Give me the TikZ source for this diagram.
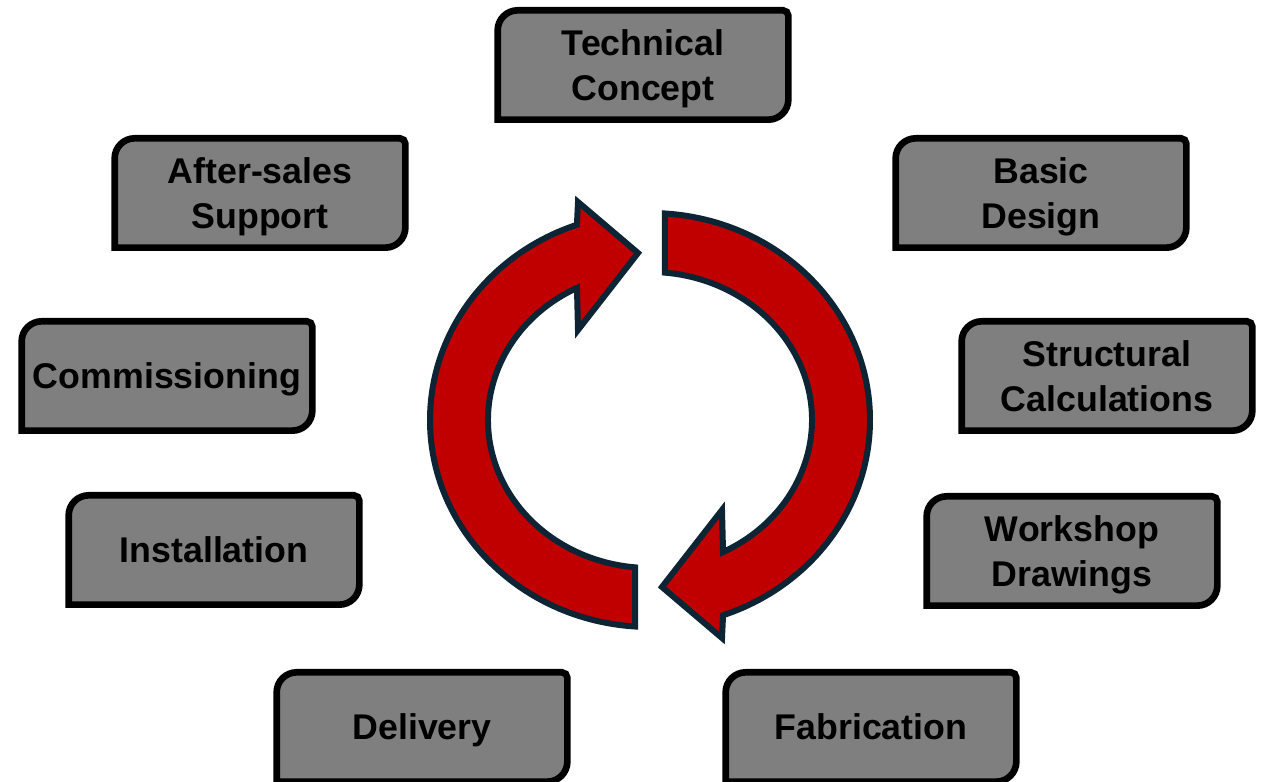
\documentclass[tikz,border=0pt]{standalone}
\usepackage{fontspec}
\setmainfont{Liberation Sans}
\usetikzlibrary{backgrounds}
\definecolor{boxgray}{HTML}{7F7F7F}
\definecolor{cyclered}{HTML}{C00000}
\definecolor{cycleline}{HTML}{0C2433}

\begin{document}
\begin{tikzpicture}[line join=miter,x=0.75pt,y=0.75pt,
		stepbox/.style={minimum width=218pt,minimum height=82pt,inner sep=0pt,outer sep=0pt,align=center,text depth=-0.5pt,font=\bfseries\fontsize{26.8}{34}\selectfont},
		boxline/.style={line width=5pt,fill=boxgray,draw=black},
		cyclearrow/.style={line width=4.5pt,fill=cyclered,draw=cycleline}]
		\useasboundingbox (0,0) rectangle (1261,782);
		\clip (0,0) rectangle (1261,782);
		% steps, clockwise from the top
		\node[stepbox] (tech) at (643,717) {Technical\\Concept};
		\node[stepbox] (basic) at (1041,589) {Basic\\Design};
		\node[stepbox] (struct) at (1107,406) {Structural\\Calculations};
		\node[stepbox] (workshop) at (1072,231) {Workshop\\Drawings};
		\node[stepbox] (fab) at (871,55) {Fabrication};
		\node[stepbox] (delivery) at (422,55) {Delivery};
		\node[stepbox] (install) at (214,232) {Installation};
		\node[stepbox] (commission) at (167,406) {Commissioning};
		\node[stepbox] (after) at (260,589) {After-sales\\Support};
		\begin{scope}[on background layer]
			\foreach \n in {tech,basic,struct,workshop,fab,delivery,install,commission,after}
			\draw[boxline] (\n.south west) -- ([yshift=-15pt]\n.north west) arc[start angle=180,end angle=90,radius=15pt]
			-- ([xshift=-4pt]\n.north east) arc[start angle=90,end angle=0,radius=4pt]
			-- ([yshift=15pt]\n.south east) arc[start angle=0,end angle=-90,radius=15pt] -- cycle;
		\end{scope}
		% the two curved arrows
		\foreach \r in {0,180}
		\draw[cyclearrow,shift={(650,362)},rotate=\r] (266.1:220 and 207) arc[start angle=266.1,end angle=109.4,x radius=220,y radius=207]
		-- (-72,218) -- (-12,167) -- (-72,90) -- (116.8:162 and 148)
		arc[start angle=116.8,end angle=264.7,x radius=162,y radius=148] -- cycle;
	\end{tikzpicture}
\end{document}
